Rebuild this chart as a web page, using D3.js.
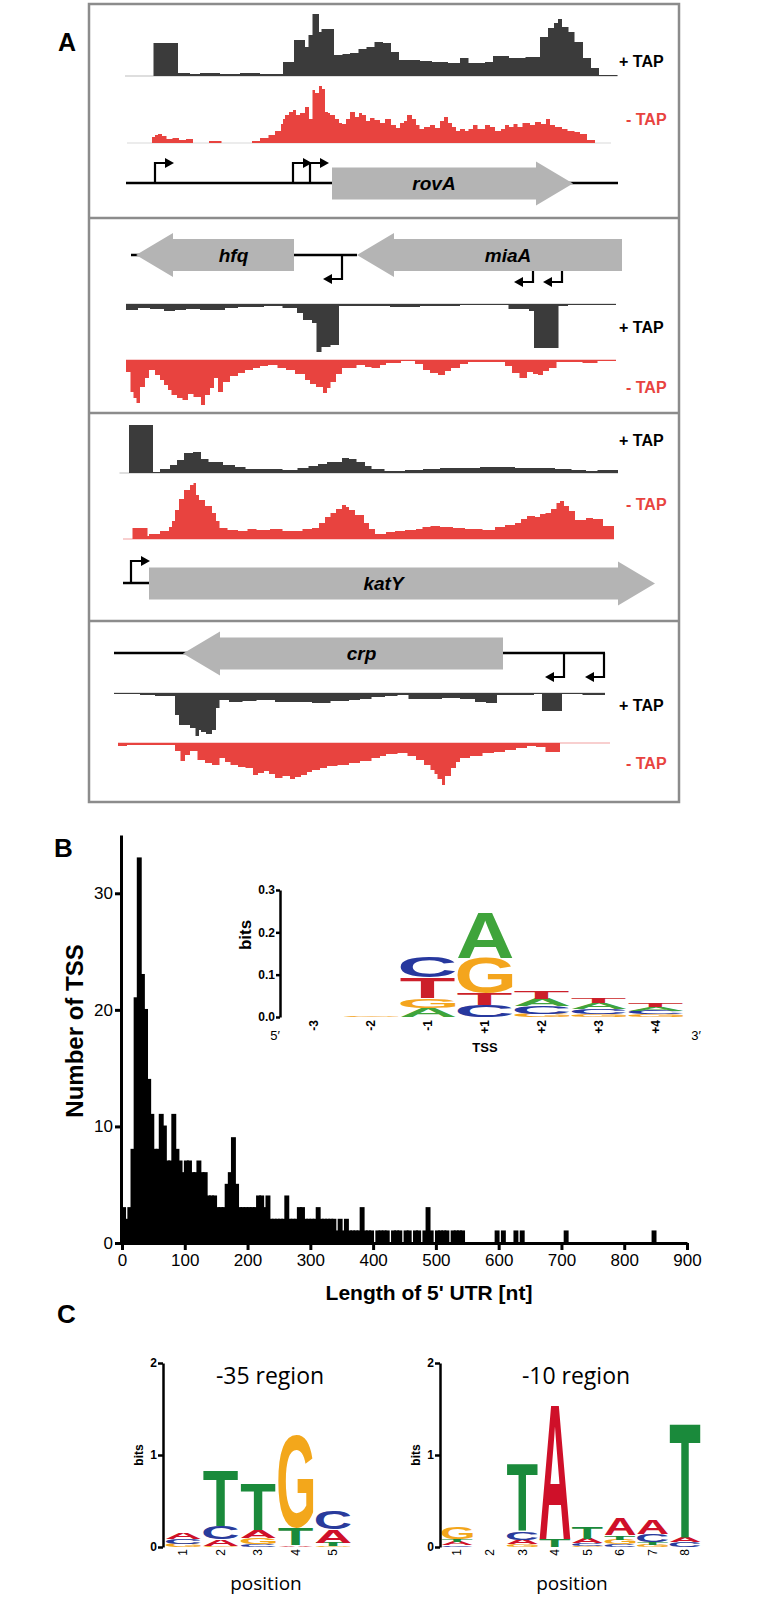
<!DOCTYPE html>
<html>
<head>
<meta charset="utf-8">
<script src="https://cdn.jsdelivr.net/npm/d3@7"></script>
<style>
  body { margin: 0; background: #fff; }
  svg { display: block; }
</style>
</head>
<body>
<div id="chart"></div>
<script>
// #region Data — panel A (position in bp along each locus window, coverage in reads)
const rovaPlus = [[30,0],[87,33],[136,3],[160,2],[180,3],[220,2],[260,3],[300,2],[317,2],[346,14],[368,36],[390,29],[397,41],[405,62],[418,44],[423,47],[448,21],[465,22],[480,23],[497,27],[513,29],[529,34],[546,33],[562,24],[578,16],[594,16],[620,15],[644,14],[676,13],[700,18],[717,13],[750,14],[766,20],[798,18],[831,19],[860,39],[876,48],[888,53],[896,57],[904,49],[917,44],[929,34],[946,18],[962,8],[978,1],[1015,0]];
const rovaMinus = [[34,0],[84,6],[90,8],[96,9],[104,7],[113,4],[125,5],[138,3],[152,4],[166,0],[198,2],[223,0],[284,2],[300,5],[317,8],[330,12],[342,19],[346,24],[350,28],[358,31],[366,33],[372,28],[380,30],[390,36],[398,24],[405,53],[410,50],[418,57],[424,54],[430,31],[436,30],[440,28],[450,24],[458,20],[464,19],[472,24],[480,31],[490,26],[498,30],[504,28],[512,22],[520,25],[529,23],[540,20],[550,24],[562,18],[572,15],[580,20],[588,22],[594,28],[604,24],[612,18],[619,14],[628,16],[640,18],[650,15],[660,22],[668,26],[676,20],[684,16],[692,12],[700,14],[710,12],[717,14],[726,18],[735,14],[750,18],[760,16],[770,12],[782,14],[790,18],[798,16],[807,19],[815,16],[825,20],[840,18],[850,21],[862,19],[872,24],[880,18],[890,16],[904,14],[915,12],[929,11],[940,9],[954,3],[970,0],[1002,0]];

const hfqPlus = [[32,6],[56,4],[80,5],[108,7],[130,6],[152,5],[180,6],[204,6],[230,4],[256,3],[308,2],[345,4],[374,9],[386,16],[404,19],[413,48],[423,43],[441,41],[458,2],[493,2],[560,3],[620,2],[700,1],[797,5],[838,7],[848,44],[897,2],[916,1],[1012,0]];
const hfqMinus = [[32,12],[41,32],[47,38],[53,43],[60,27],[70,18],[78,10],[90,15],[100,20],[108,25],[116,30],[123,35],[134,38],[145,40],[156,34],[167,37],[182,45],[190,35],[200,28],[208,18],[216,32],[226,22],[240,16],[256,13],[270,10],[286,8],[300,6],[316,5],[335,8],[352,10],[370,14],[390,20],[400,24],[412,27],[426,33],[434,28],[441,22],[452,14],[464,8],[493,5],[510,7],[523,8],[540,5],[552,3],[582,1],[610,4],[626,10],[640,13],[656,15],[670,11],[682,8],[700,4],[716,2],[760,2],[790,6],[804,13],[819,18],[834,12],[846,14],[856,15],[866,11],[878,8],[893,2],[945,3],[975,1],[1012,0]];

const katyPlus = [[19,0],[38,48],[86,1],[100,4],[120,8],[134,13],[148,20],[166,21],[182,14],[197,11],[226,8],[250,6],[271,4],[345,3],[375,5],[397,7],[416,9],[434,11],[464,15],[478,14],[493,11],[510,7],[523,4],[549,2],[590,3],[626,4],[660,5],[700,5],[740,6],[774,6],[810,5],[848,5],[890,4],[923,3],[952,2],[975,3],[1016,0]];
const katyMinus = [[26,0],[45,11],[75,3],[78,5],[100,8],[118,12],[124,18],[130,29],[138,40],[148,49],[160,54],[167,56],[172,44],[178,39],[190,33],[204,26],[212,18],[219,11],[235,9],[256,8],[275,10],[293,9],[320,10],[345,8],[367,8],[385,10],[404,11],[418,16],[430,22],[441,26],[452,30],[464,34],[472,32],[478,29],[490,24],[508,16],[518,10],[530,5],[552,7],[570,8],[590,9],[612,10],[625,12],[641,13],[660,12],[686,11],[710,10],[745,9],[770,12],[790,14],[810,16],[822,20],[834,23],[850,22],[860,25],[871,26],[882,30],[893,36],[900,38],[908,33],[918,28],[930,19],[952,21],[966,20],[986,13],[1008,0]];

const crpPlus = [[8,1],[60,2],[90,3],[130,22],[138,32],[160,35],[171,43],[178,37],[182,39],[192,41],[204,37],[212,15],[219,7],[238,9],[265,8],[293,7],[330,9],[370,9],[404,10],[441,8],[478,7],[500,6],[523,4],[550,3],[575,2],[597,6],[630,6],[664,5],[700,6],[730,9],[752,10],[774,2],[848,1],[864,18],[904,1],[945,2],[990,0]];
const crpMinus = [[16,3],[34,2],[130,8],[141,18],[150,12],[160,8],[175,17],[190,20],[204,22],[219,15],[230,19],[241,22],[256,24],[271,25],[286,32],[296,30],[308,28],[318,31],[330,35],[345,33],[360,36],[370,34],[382,32],[394,29],[404,27],[420,25],[434,23],[455,22],[478,20],[500,18],[523,15],[540,13],[552,11],[575,10],[595,13],[612,17],[628,22],[641,27],[649,31],[655,36],[664,42],[670,33],[682,25],[692,19],[700,15],[720,13],[745,10],[768,9],[790,7],[812,5],[834,3],[852,4],[871,9],[900,0],[1000,0]];

// genes: start/end in bp, the arrow tip is the end on the strand side
const rovaGenes = [{ name: 'rovA', start: 444, end: 926, strand: 1 }];
const hfqGenes = [{ name: 'hfq', start: 52, end: 368, strand: -1 }, { name: 'miaA', start: 494, end: 1024, strand: -1 }];
const katyGenes = [{ name: 'katY', start: 78, end: 1090, strand: 1 }];
const crpGenes = [{ name: 'crp', start: 146, end: 786, strand: -1 }];

// backbone lines [from, to] in bp
const rovaLine = [32, 1016];
const hfqLine = [42, 494];
const katyLine = [26, 78];
const crpLine = [8, 990];

// transcriptional start sites (bp)
const rovaTss = [90, 366, 400];
const hfqTss = [464];
const miaaTss = [846, 904];
const katyTss = [42];
const crpTss = [908, 988];
// #endregion

// #region Data — panel B (5' UTR length histogram, 5-nt bins from 0)
const binWidth = 5;
const tssCounts = [
  3, 2, 3, 8, 21, 33, 23, 20, 14, 11, 8, 8, 11, 10, 7, 7, 11, 8, 7, 6,
  7, 7, 6, 6, 7, 6, 6, 4, 4, 4, 3, 3, 3, 5, 6, 9, 5, 3, 3, 3,
  3, 3, 3, 4, 4, 3, 4, 2, 2, 2, 2, 2, 4, 2, 2, 2, 3, 3, 2, 2,
  2, 2, 3, 2, 2, 2, 2, 2, 1, 2, 1, 2, 1, 1, 1, 1, 3, 1, 1, 1,
  0, 1, 1, 1, 1, 0, 1, 1, 1, 0, 1, 1, 0, 1, 1, 0, 1, 3, 1, 0,
  1, 1, 1, 1, 0, 1, 1, 1, 1, 0, 0, 0, 0, 0, 0, 0, 0, 0, 0, 1,
  0, 1, 0, 0, 0, 1, 0, 1, 0, 0, 0, 0, 0, 0, 0, 0, 0, 0, 0, 0,
  0, 1, 0, 0, 0, 0, 0, 0, 0, 0, 0, 0, 0, 0, 0, 0, 0, 0, 0, 0,
  0, 0, 0, 0, 0, 0, 0, 0, 0, 1
];
const histYTicks = [0, 10, 20, 30];
const histXTicks = [0, 100, 200, 300, 400, 500, 600, 700, 800, 900];

// inset logo around the TSS, letters bottom -> top, height in bits
const insetPositions = ['-3', '-2', '-1', '+1', '+2', '+3', '+4'];
const insetColumns = [
  [],
  [['G', 0.003]],
  [['A', 0.022], ['G', 0.022], ['T', 0.05], ['C', 0.05]],
  [['C', 0.028], ['T', 0.028], ['G', 0.083], ['A', 0.106]],
  [['G', 0.008], ['C', 0.018], ['A', 0.017], ['T', 0.017]],
  [['G', 0.006], ['C', 0.012], ['A', 0.014], ['T', 0.013]],
  [['G', 0.006], ['C', 0.009], ['A', 0.009], ['T', 0.009]]
];
const insetTicks = [0, 0.1, 0.2, 0.3];
// #endregion

// #region Data — panel C (promoter motifs)
const m35Positions = ['1', '2', '3', '4', '5'];
const m35Columns = [
  [['G', 0.036], ['C', 0.054], ['A', 0.07]],
  [['G', 0.01], ['A', 0.07], ['C', 0.145], ['T', 0.6]],
  [['C', 0.03], ['G', 0.072], ['A', 0.083], ['T', 0.51]],
  [['A', 0.018], ['T', 0.18], ['G', 1.01]],
  [['G', 0.01], ['T', 0.036], ['A', 0.145], ['C', 0.2]]
];
const m10Positions = ['1', '2', '3', '4', '5', '6', '7', '8'];
const m10Columns = [
  [['C', 0.018], ['A', 0.036], ['T', 0.03], ['G', 0.127]],
  [],
  [['G', 0.03], ['A', 0.05], ['C', 0.09], ['T', 0.74]],
  [['T', 0.09], ['A', 1.47]],
  [['G', 0.01], ['C', 0.03], ['A', 0.05], ['T', 0.12]],
  [['C', 0.03], ['G', 0.05], ['T', 0.047], ['A', 0.18]],
  [['G', 0.025], ['T', 0.03], ['C', 0.083], ['A', 0.15]],
  [['C', 0.054], ['A', 0.06], ['T', 1.25]]
];
const bitsTicks = [0, 1, 2];
// #endregion

const SANS = '"Liberation Sans", Arial, Helvetica, sans-serif';
const NARROW = '"Liberation Sans Narrow", "Liberation Sans", Arial, sans-serif';
const OPEN = '"Open Sans", "DejaVu Sans", sans-serif';
const PLUS = '#3b3b3b';
const MINUS = '#e8433f';
const GENE = '#b4b4b4';

const svg = d3.select('#chart').append('svg').attr('width', 774).attr('height', 1600);

function label(x, y, txt, size, opts = {}) {
  return svg.append('text')
    .attr('x', x).attr('y', y)
    .attr('font-family', opts.family || SANS)
    .attr('font-size', size)
    .attr('font-weight', opts.weight || 'bold')
    .attr('font-style', opts.style || 'normal')
    .attr('text-anchor', opts.anchor || 'start')
    .attr('fill', opts.fill || '#000')
    .text(txt);
}

// #region Panel A
label(58, 51, 'A', 25);

const frame = svg.append('g').attr('fill', 'none').attr('stroke', '#8c8c8c').attr('stroke-width', 2.5);
frame.append('rect').attr('x', 89).attr('y', 4).attr('width', 590).attr('height', 798);
[218, 413, 621].forEach(y => frame.append('line').attr('x1', 89).attr('x2', 679).attr('y1', y).attr('y2', y));

const xA = d3.scaleLinear().domain([0, 1100]).range([110, 660]);
const cov = d3.scaleLinear().domain([0, 60]).range([0, 60]);
const gA = svg.append('g');

function track(data, base, dir, color, lineColor) {
  gA.append('line')
    .attr('x1', xA(data[0][0])).attr('x2', xA(data[data.length - 1][0]))
    .attr('y1', base).attr('y2', base)
    .attr('stroke', lineColor).attr('stroke-width', 1.2);
  const area = d3.area()
    .curve(d3.curveStepAfter)
    .x(d => xA(d[0]))
    .y0(base)
    .y1(d => base - dir * cov(d[1]));
  gA.append('path').datum(data).attr('d', area).attr('fill', color);
}

function backbone(range, y) {
  gA.append('line')
    .attr('x1', xA(range[0])).attr('x2', xA(range[1]))
    .attr('y1', y).attr('y2', y)
    .attr('stroke', '#000').attr('stroke-width', 2.5);
}

function genes(list, y) {
  const bh = 32, hh = 44, hl = 37;
  list.forEach(g => {
    const a = xA(g.start), b = xA(g.end);
    let pts;
    if (g.strand > 0) {
      pts = [[a, y - bh / 2], [b - hl, y - bh / 2], [b - hl, y - hh / 2], [b, y], [b - hl, y + hh / 2], [b - hl, y + bh / 2], [a, y + bh / 2]];
    } else {
      pts = [[b, y - bh / 2], [a + hl, y - bh / 2], [a + hl, y - hh / 2], [a, y], [a + hl, y + hh / 2], [a + hl, y + bh / 2], [b, y + bh / 2]];
    }
    gA.append('path').attr('d', d3.line()(pts) + 'Z').attr('fill', GENE);
    const cx = g.strand > 0 ? (a + b - hl) / 2 : (a + hl + b) / 2;
    gA.append('text')
      .attr('x', cx).attr('y', y + 6.5)
      .attr('text-anchor', 'middle')
      .attr('font-family', SANS).attr('font-weight', 'bold').attr('font-style', 'italic')
      .attr('font-size', 19)
      .text(g.name);
  });
}

function tss(list, y0, y1, dir) {
  const len = 10, hw = 5, hlen = 9;
  list.forEach(p => {
    const x = xA(p);
    gA.append('path')
      .attr('d', `M${x},${y0}V${y1}H${x + dir * len}`)
      .attr('fill', 'none').attr('stroke', '#000').attr('stroke-width', 2.2);
    gA.append('path')
      .attr('d', `M${x + dir * len},${y1 - hw}L${x + dir * (len + hlen)},${y1}L${x + dir * len},${y1 + hw}Z`)
      .attr('fill', '#000');
  });
}

function tapLabels(yPlus, yMinus) {
  label(619, yPlus, '+ TAP', 16);
  label(626, yMinus, '- TAP', 16, { fill: MINUS });
}

// rovA
track(rovaPlus, 76, 1, PLUS, '#bdbdbd');
track(rovaMinus, 143, 1, MINUS, '#d9d9d9');
backbone(rovaLine, 183);
genes(rovaGenes, 183.5);
tss(rovaTss, 183, 163, 1);
tapLabels(67, 125);

// hfq / miaA
backbone(hfqLine, 255);
genes(hfqGenes, 255);
tss(hfqTss, 255, 279, -1);
tss(miaaTss, 271, 282, -1);
track(hfqPlus, 304, -1, PLUS, '#bdbdbd');
track(hfqMinus, 360, -1, MINUS, '#f2a0a0');
tapLabels(333, 393);

// katY
track(katyPlus, 473, 1, PLUS, '#bdbdbd');
track(katyMinus, 539, 1, MINUS, '#f2a0a0');
backbone(katyLine, 583);
tss(katyTss, 583, 561, 1);
genes(katyGenes, 583.5);
tapLabels(446, 510);

// crp
backbone(crpLine, 653);
genes(crpGenes, 653.5);
tss(crpTss, 653, 677, -1);
track(crpPlus, 693, -1, PLUS, '#bdbdbd');
track(crpMinus, 743, -1, MINUS, '#f2a0a0');
tapLabels(711, 769);
// #endregion

// #region Panel B histogram
label(54, 857, 'B', 26);

const xH = d3.scaleLinear().domain([0, 900]).range([122, 687]);
const yH = d3.scaleLinear().domain([0, 35]).range([1243, 835]);
const gB = svg.append('g');

const bins = tssCounts.map((c, i) => ({ x0: i * binWidth, x1: (i + 1) * binWidth, n: c })).filter(d => d.n > 0);
gB.selectAll('rect.bar')
  .data(bins)
  .enter()
  .append('rect')
  .attr('class', 'bar')
  .attr('x', d => xH(d.x0))
  .attr('width', d => xH(d.x1) - xH(d.x0))
  .attr('y', d => yH(d.n))
  .attr('height', d => yH(0) - yH(d.n))
  .attr('fill', '#000')
  .attr('stroke', '#000')
  .attr('stroke-width', 1.8);

function styleAxis(g, size, family, weight, width) {
  g.select('.domain').attr('stroke-width', width).attr('stroke', '#000');
  g.selectAll('.tick line').attr('stroke-width', width).attr('stroke', '#000');
  g.selectAll('.tick text').attr('font-size', size).attr('font-family', family).attr('font-weight', weight).attr('fill', '#000');
}

const yAxisB = gB.append('g').attr('transform', `translate(${xH(0) - 1},0)`)
  .call(d3.axisLeft(yH).tickValues(histYTicks).tickSize(6).tickSizeOuter(0).tickPadding(2));
styleAxis(yAxisB, 17, SANS, 'normal', 3);

const xAxisB = gB.append('g').attr('transform', `translate(0,${yH(0)})`)
  .call(d3.axisBottom(xH).tickValues(histXTicks).tickSize(7).tickSizeOuter(0).tickPadding(4));
styleAxis(xAxisB, 17, SANS, 'normal', 3);

svg.append('text')
  .attr('transform', 'translate(83,1031) rotate(-90)')
  .attr('text-anchor', 'middle')
  .attr('font-family', SANS).attr('font-weight', 'bold').attr('font-size', 24)
  .text('Number of TSS');
label(429, 1300, "Length of 5' UTR [nt]", 21, { anchor: 'middle' });
// #endregion

// #region Sequence logos
const canvas = document.createElement('canvas');
const ctx = canvas.getContext('2d');
const boxCache = {};
function glyphBox(ch) {
  if (!boxCache[ch]) {
    ctx.font = 'bold 100px "Liberation Sans"';
    const m = ctx.measureText(ch);
    boxCache[ch] = { l: m.actualBoundingBoxLeft, r: m.actualBoundingBoxRight, a: m.actualBoundingBoxAscent, d: m.actualBoundingBoxDescent };
  }
  return boxCache[ch];
}

function drawLogo(g, columns, xScale, yScale, colW, colors) {
  columns.forEach((col, i) => {
    let cum = 0;
    const cx = xScale(i);
    col.forEach(([ch, bits]) => {
      const yTop = yScale(cum + bits), yBot = yScale(cum);
      cum += bits;
      const h = yBot - yTop;
      if (h <= 0) return;
      const b = glyphBox(ch);
      const sx = colW / (b.l + b.r), sy = h / (b.a + b.d);
      g.append('text')
        .attr('font-family', '"Liberation Sans"').attr('font-weight', 'bold').attr('font-size', 100)
        .attr('fill', colors[ch])
        .attr('transform', `translate(${cx - colW / 2},${yTop}) scale(${sx},${sy}) translate(${b.l},${b.a})`)
        .text(ch);
    });
  });
}

function positionLabels(g, names, xScale, yTop, size, family, weight) {
  names.forEach((n, i) => {
    g.append('text')
      .attr('transform', `translate(${xScale(i)},${yTop}) rotate(-90)`)
      .attr('text-anchor', 'end').attr('dy', '0.35em')
      .attr('font-family', family).attr('font-weight', weight).attr('font-size', size)
      .text(n);
  });
}

// inset
const insetColors = { A: '#3fa43b', C: '#27389e', G: '#f4a51d', T: '#cc1f2a' };
const xI = d3.scaleLinear().domain([-0.5, 6.5]).range([285.5, 684.5]);
const yI = d3.scaleLinear().domain([0, 0.3]).range([1017, 890]);
const gI = svg.append('g');
drawLogo(gI, insetColumns, xI, yI, 55, insetColors);
const yAxisI = gI.append('g').attr('transform', 'translate(280,0)')
  .call(d3.axisLeft(yI).tickValues(insetTicks).tickFormat(d3.format('.1f')).tickSize(4).tickSizeOuter(0).tickPadding(1));
styleAxis(yAxisI, 12, NARROW, 'bold', 2.5);
positionLabels(gI, insetPositions, xI, 1020, 12, NARROW, 'bold');
gI.append('text').attr('transform', 'translate(251,935) rotate(-90)').attr('text-anchor', 'middle')
  .attr('font-family', NARROW).attr('font-weight', 'bold').attr('font-size', 17).text('bits');
gI.append('text').attr('x', 275).attr('y', 1040).attr('text-anchor', 'middle')
  .attr('font-family', NARROW).attr('font-size', 13).text('5\u2032');
gI.append('text').attr('x', 696).attr('y', 1040).attr('text-anchor', 'middle')
  .attr('font-family', NARROW).attr('font-size', 13).text('3\u2032');
gI.append('text').attr('x', xI(3)).attr('y', 1052).attr('text-anchor', 'middle')
  .attr('font-family', NARROW).attr('font-weight', 'bold').attr('font-size', 13).text('TSS');

// panel C
label(57, 1323, 'C', 26);
const motifColors = { A: '#cf1029', C: '#293b9c', G: '#f3a71b', T: '#1a8a3b' };
const yC = d3.scaleLinear().domain([0, 2]).range([1547, 1363]);

function motif(columns, names, xScale, colW, axisX, title, titleX) {
  const g = svg.append('g');
  drawLogo(g, columns, xScale, yC, colW, motifColors);
  const ax = g.append('g').attr('transform', `translate(${axisX},0)`)
    .call(d3.axisLeft(yC).tickValues(bitsTicks).tickFormat(d3.format('d')).tickSize(5).tickSizeOuter(0).tickPadding(1));
  styleAxis(ax, 12, SANS, 'bold', 2.5);
  positionLabels(g, names, xScale, 1549, 12, SANS, 'normal');
  g.append('text').attr('transform', `translate(${axisX - 20},1455) rotate(-90)`).attr('text-anchor', 'middle')
    .attr('font-family', SANS).attr('font-weight', 'bold').attr('font-size', 12).text('bits');
  g.append('text').attr('x', titleX).attr('y', 1384).attr('text-anchor', 'middle')
    .attr('font-family', OPEN).attr('font-size', 23).text(title);
  g.append('text').attr('x', titleX - 4).attr('y', 1590).attr('text-anchor', 'middle')
    .attr('font-family', OPEN).attr('font-size', 19).text('position');
}

const x35 = d3.scaleLinear().domain([-0.5, 4.5]).range([164.5, 352]);
motif(m35Columns, m35Positions, x35, 35, 163, '-35 region', 270);
const x10 = d3.scaleLinear().domain([-0.5, 7.5]).range([441, 701.5]);
motif(m10Columns, m10Positions, x10, 31, 440, '-10 region', 576);
// #endregion
</script>
</body>
</html>
